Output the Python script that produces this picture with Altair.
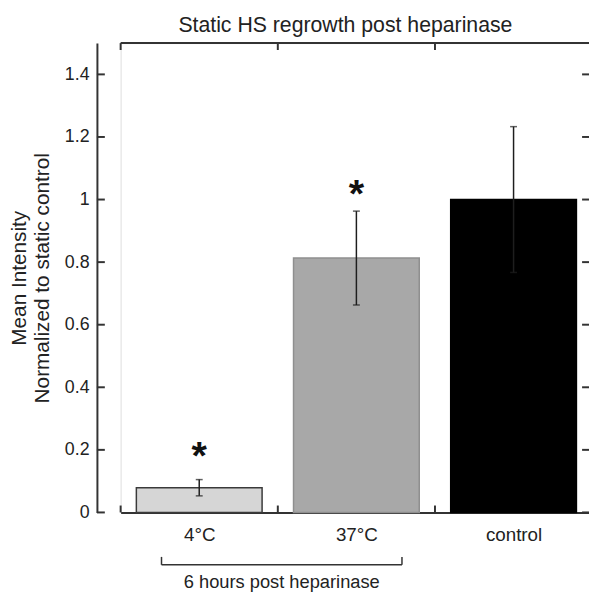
import altair as alt
import pandas as pd

# ---- data ----
categories = ["4°C", "37°C", "control"]
means = [0.079, 0.813, 1.0]
errors = [0.026, 0.150, 0.233]
star_levels = [0.212, 1.05]          # asterisks above the first two bars
star_categories = ["4°C", "37°C"]
y_ticks = [0, 0.2, 0.4, 0.6, 0.8, 1.0, 1.2, 1.4]
group_bounds = [0, 1, 2]
bracket_span = [0.26, 1.79]
bracket_label = "6 hours post heparinase"
chart_title = "Static HS regrowth post heparinase"
title_center = 1.43
y_title = ["Mean Intensity", "Normalized to static control"]

# ---- styling ----
fills = ["#d6d6d6", "#a8a8a8", "#000000"]
strokes = ["#3a3a3a", "#8f8f8f", "#000000"]
FONT = "Liberation Sans"
INK = "#333333"
TXT = "#222222"
ERR = "#1e1e1e"
W, H = 474, 475
XMAX, YMAX = 2.98, 1.5
HALF = 0.40

df = pd.DataFrame({"cat": categories, "mean": means, "err": errors,
                   "fill": fills, "stroke": strokes})
df["pos"] = [i + 0.5 for i in range(len(categories))]
df["x0"] = df["pos"] - HALF
df["x1"] = df["pos"] + HALF
df["lo"] = df["mean"] - df["err"]
df["hi"] = df["mean"] + df["err"]

stars = pd.DataFrame({"cat": star_categories, "lvl": star_levels})
stars["pos"] = [categories.index(c) + 0.5 for c in star_categories]
yt = pd.DataFrame({"t": y_ticks})
gb = pd.DataFrame({"b": group_bounds})
br = pd.DataFrame({"b": bracket_span})
one = pd.DataFrame({"k": [0]})

xs = alt.Scale(domain=[0, XMAX], nice=False, zero=False)
ys = alt.Scale(domain=[0, YMAX], nice=False)

parts = [f"datum.value < {i + 1} ? '{c}'" for i, c in enumerate(categories[:-1])]
label_expr = " : ".join(parts + [f"'{categories[-1]}'"])

x_axis = alt.Axis(values=[p for p in df["pos"]], labelExpr=label_expr, ticks=False,
                  tickSize=0, domain=True, domainColor=INK, domainWidth=2, grid=False,
                  labelFont=FONT, labelFontSize=19, labelColor=TXT, labelPadding=13,
                  title=None)
y_axis = alt.Axis(values=y_ticks, format="~g", offset=24, ticks=False, tickSize=0,
                  domain=True, domainColor=INK, domainWidth=2, grid=False,
                  labelFont=FONT, labelFontSize=18, labelColor=TXT, labelPadding=8,
                  title=y_title, titleFont=FONT, titleFontSize=21,
                  titleFontWeight="normal", titleColor=TXT, titlePadding=12)

base = alt.Chart(df)

bars = base.mark_rect(strokeWidth=1.5).encode(
    x=alt.X("x0:Q", scale=xs, axis=x_axis),
    x2="x1:Q",
    y=alt.Y("mean:Q", scale=ys, axis=y_axis),
    y2=alt.Y2(datum=0),
    fill=alt.Fill("fill:N", scale=None),
    stroke=alt.Stroke("stroke:N", scale=None),
)

err_line = base.mark_rule(color=ERR, strokeWidth=1.5).encode(
    x=alt.X("pos:Q", scale=xs), y=alt.Y("lo:Q", scale=ys), y2="hi:Q")
cap_hi = base.mark_tick(orient="horizontal", color=ERR, thickness=1.5, size=7).encode(
    x=alt.X("pos:Q", scale=xs), y=alt.Y("hi:Q", scale=ys))
cap_lo = base.mark_tick(orient="horizontal", color=ERR, thickness=1.5, size=7).encode(
    x=alt.X("pos:Q", scale=xs), y=alt.Y("lo:Q", scale=ys))

star_fs = 40
star_marks = alt.Chart(stars).mark_text(
    text="*", font=FONT, fontSize=star_fs, fontWeight="bold", color="#111111",
    baseline="alphabetic", dy=0.58 * star_fs).encode(
    x=alt.X("pos:Q", scale=xs), y=alt.Y("lvl:Q", scale=ys))

left_ticks = alt.Chart(yt).mark_rule(color=INK, strokeWidth=2).encode(
    y=alt.Y("t:Q", scale=ys), x=alt.value(-24), x2=alt.value(-16))
right_ticks = alt.Chart(yt).mark_rule(color=INK, strokeWidth=2).encode(
    y=alt.Y("t:Q", scale=ys), x=alt.value(W - 7), x2=alt.value(W))

bottom_ticks = alt.Chart(gb).mark_rule(color=INK, strokeWidth=2).encode(
    x=alt.X("b:Q", scale=xs), y=alt.value(H), y2=alt.value(H - 7))
top_ticks = alt.Chart(gb).mark_rule(color=INK, strokeWidth=2).encode(
    x=alt.X("b:Q", scale=xs), y=alt.value(0), y2=alt.value(7))
top_line = alt.Chart(one).mark_rule(color=INK, strokeWidth=2).encode(
    x=alt.X(datum=0, scale=xs), x2=alt.X2(datum=XMAX), y=alt.value(0))

title_text = alt.Chart(one).mark_text(
    text=chart_title, font=FONT, fontSize=21.5, color=TXT, baseline="alphabetic").encode(
    x=alt.X(datum=title_center, scale=xs), y=alt.value(-11))

br_line = alt.Chart(one).mark_rule(color=INK, strokeWidth=1.5).encode(
    x=alt.X(datum=bracket_span[0], scale=xs), x2=alt.X2(datum=bracket_span[1]),
    y=alt.value(H + 53))
br_ends = alt.Chart(br).mark_rule(color=INK, strokeWidth=1.5).encode(
    x=alt.X("b:Q", scale=xs), y=alt.value(H + 45), y2=alt.value(H + 53))
br_text = alt.Chart(one).mark_text(
    text=bracket_label, font=FONT, fontSize=18.5, color=TXT, baseline="alphabetic").encode(
    x=alt.X(datum=sum(bracket_span) / 2, scale=xs), y=alt.value(H + 76))

chart = alt.layer(
    bars, err_line, cap_hi, cap_lo, star_marks, left_ticks, right_ticks,
    bottom_ticks, top_ticks, top_line, title_text, br_line, br_ends, br_text,
).properties(
    width=W, height=H,
    autosize=alt.AutoSizeParams(type="none"),
    padding={"left": 114, "top": 32, "right": 0, "bottom": 77},
).configure_view(stroke=None).configure(background="white")

chart.save("out.html", embed_options={"renderer": "svg", "actions": False})
